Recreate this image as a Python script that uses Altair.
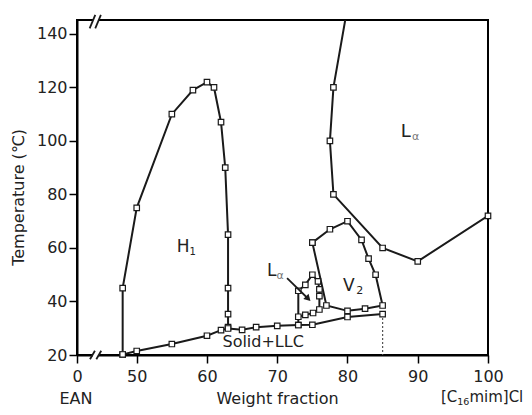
import altair as alt
import pandas as pd

# ---------------- data ----------------
# H1 phase boundary
h1_x = [48, 48, 50, 55, 58, 60, 61, 62, 62.6, 63, 63, 63, 63]
h1_y = [20.2, 45, 75, 110, 119, 122, 120, 107, 90, 65, 45, 35.3, 30.4]
# Solid + LLC boundary (lower line)
base_x = [48, 50, 55, 60, 62, 63, 65, 67, 70, 73, 75, 80, 85]
base_y = [20.2, 21.5, 24.1, 27.2, 29.3, 29.9, 29.4, 30.4, 30.9, 31.2, 31.3, 34.2, 35.3]
# L-alpha (large region) boundary
la_x = [80, 78, 77.5, 78, 85, 90, 100]
la_y = [150, 120, 100, 80, 60, 55, 72]
# V2 region boundary (closed loop)
v2_x = [75, 77.5, 80, 82, 83, 84, 85, 82.5, 80, 77, 75]
v2_y = [62, 67, 70, 63, 56, 50, 38.5, 37.3, 36.5, 38.5, 62]
# small L-alpha pocket
lsm_x = [73, 73, 74, 75, 75.8, 76, 76, 76, 75.1, 74, 73]
lsm_y = [31.2, 44, 46.2, 50, 47.5, 44.5, 42, 37, 35.7, 35, 34.3]
# dashed line
dash_x = [85, 85]
dash_y = [35.3, 20]

# axis ticks
x_ticks = [41.5, 42.8, 50, 55, 60, 65, 70, 75, 80, 85, 90, 95, 100]
y_ticks = [20, 30, 40, 50, 60, 70, 80, 90, 100, 110, 120, 130, 140]

# labels: text, x, y, size, color, angle, align, baseline
lab_text = ["H", "1", "L", "α", "V", "2", "L", "α", "Solid+LLC",
            "Temperature (℃)", "EAN", "Weight fraction", "[C", "16", "mim]Cl"]
lab_x = [56.6, 57.95, 88.3, 89.7, 80.2, 81.75, 69.2, 70.4, 68.0,
         33.3, 41.35, 70.05, 93.31, 95.63, 97.35]
lab_y = [60.2, 58.4, 103.4, 101.4, 45.8, 43.9, 51.4, 49.6, 24.7,
         78.9, 1.7, 1.7, 2.4, 1.4, 2.4]
lab_size = [17, 10, 18, 11, 17, 11, 17, 11, 16, 16, 16, 16, 15, 9.5, 15]
lab_color = ["#222", "#222", "#222", "#777", "#222", "#222", "#222", "#777", "#222",
             "#222", "#222", "#222", "#222", "#222", "#222"]
lab_angle = [0, 0, 0, 0, 0, 0, 0, 0, 0, 270, 0, 0, 0, 0, 0]
lab_align = ["center"] * 12 + ["left", "left", "left"]
lab_base = ["middle"] * 10 + ["alphabetic"] * 5

# arrow
arrow_x = [71.4]
arrow_y = [48.7]
arrow_x2 = [74.3]
arrow_y2 = [41.3]
head_x = [74.3]
head_y = [41.3]

# axis break marks
brk_x = [43.35, 44.25, 43.3, 44.1]
brk_x2 = [44.05, 44.95, 44.1, 44.9]
brk_y = [18.4, 18.4, 142.1, 142.1]
brk_y2 = [21.6, 21.6, 147.1, 147.1]
gap_x = [43.75, 43.8]
gap_x2 = [44.6, 44.6]
gap_y = [20, 145.2]

# ---------------- build tables ----------------
rows = []
for name, xs, ys in [("h1", h1_x, h1_y), ("base", base_x, base_y), ("la", la_x, la_y),
                     ("v2", v2_x, v2_y), ("lsm", lsm_x, lsm_y)]:
    for i, (a, b) in enumerate(zip(xs, ys)):
        rows.append({"series": name, "i": i, "x": a, "y": b})
curves = pd.DataFrame(rows)
dash_df = pd.DataFrame({"x": dash_x, "y": dash_y, "i": [0, 1]})
labels = pd.DataFrame({"t": lab_text, "x": lab_x, "y": lab_y, "s": lab_size, "c": lab_color,
                       "a": lab_angle, "al": lab_align, "bl": lab_base})
arrow_df = pd.DataFrame({"x": arrow_x, "y": arrow_y, "x2": arrow_x2, "y2": arrow_y2})
head_df = pd.DataFrame({"x": head_x, "y": head_y})
brk_df = pd.DataFrame({"x": brk_x, "x2": brk_x2, "y": brk_y, "y2": brk_y2})
gap_df = pd.DataFrame({"x": gap_x, "x2": gap_x2, "y": gap_y})

FONT = "DejaVu Sans"

xscale = alt.Scale(domain=[41.5, 100], nice=False, zero=False)
yscale = alt.Scale(domain=[20, 145.2], nice=False, zero=False)

xaxis = alt.Axis(
    values=x_ticks, title=None, grid=False,
    labelExpr="datum.value < 42 ? '0' : (datum.value % 10 == 0 ? datum.label : '')",
    tickSize={"condition": {"test": "datum.value % 10 != 0 && datum.value > 42", "value": 4}, "value": 8},
    domainColor="black", domainWidth=2, tickColor="black", tickWidth=1.5,
    labelFont=FONT, labelFontSize=16, labelColor="#222", labelPadding=5,
    labelFlush=False, labelOverlap=False,
)
yaxis = alt.Axis(
    values=y_ticks, title=None, grid=False,
    labelExpr="datum.value % 20 == 0 ? datum.label : ''",
    tickSize={"condition": {"test": "datum.value % 20 != 0", "value": 4}, "value": 8},
    domainColor="black", domainWidth=2, tickColor="black", tickWidth=1.5,
    labelFont=FONT, labelFontSize=16, labelColor="#222", labelPadding=2,
    labelFlush=False, labelOverlap=False,
)

X = alt.X("x:Q", scale=xscale, axis=xaxis)
Y = alt.Y("y:Q", scale=yscale, axis=yaxis)

lines = alt.Chart(curves).mark_line(color="#1a1a1a", strokeWidth=2, clip=True).encode(
    x=X, y=Y, detail="series:N", order="i:Q")

dashed = alt.Chart(dash_df).mark_line(color="#555", strokeWidth=1.2, strokeDash=[2, 2]).encode(
    x="x:Q", y="y:Q", order="i:Q")

points = alt.Chart(curves).transform_filter("datum.y < 146").mark_point(
    shape="square", size=30, filled=True, fill="white", stroke="#1a1a1a", strokeWidth=1.2, opacity=1
).encode(x="x:Q", y="y:Q")

texts_c = alt.Chart(labels).transform_filter("datum.al == 'center' && datum.bl == 'middle'").mark_text(
    font=FONT, align="center", baseline="middle").encode(
    x="x:Q", y="y:Q", text="t:N",
    size=alt.Size("s:Q", scale=None, legend=None),
    color=alt.Color("c:N", scale=None, legend=None),
    angle=alt.Angle("a:Q", scale=None, legend=None))
texts_cb = alt.Chart(labels).transform_filter("datum.al == 'center' && datum.bl == 'alphabetic'").mark_text(
    font=FONT, align="center", baseline="alphabetic").encode(
    x="x:Q", y="y:Q", text="t:N",
    size=alt.Size("s:Q", scale=None, legend=None),
    color=alt.Color("c:N", scale=None, legend=None))
texts_l = alt.Chart(labels).transform_filter("datum.al == 'left'").mark_text(
    font=FONT, align="left", baseline="alphabetic").encode(
    x="x:Q", y="y:Q", text="t:N",
    size=alt.Size("s:Q", scale=None, legend=None),
    color=alt.Color("c:N", scale=None, legend=None))

arrow = alt.Chart(arrow_df).mark_rule(color="#1a1a1a", strokeWidth=1.8).encode(
    x="x:Q", y="y:Q", x2="x2:Q", y2="y2:Q")
head = alt.Chart(head_df).mark_point(shape="triangle", size=55, filled=True, color="#1a1a1a",
                                     angle=135, opacity=1).encode(x="x:Q", y="y:Q")

gaps = alt.Chart(gap_df).mark_rule(color="white", strokeWidth=5).encode(
    x="x:Q", x2="x2:Q", y="y:Q")
breaks = alt.Chart(brk_df).mark_rule(color="#1a1a1a", strokeWidth=1.8).encode(
    x="x:Q", x2="x2:Q", y="y:Q", y2="y2:Q")

chart = alt.layer(lines, dashed, points, texts_c, texts_cb, texts_l, arrow, head, gaps, breaks).properties(
    width=411, height=335,
    autosize=alt.AutoSizeParams(type="none"),
    padding={"left": 69, "top": 12, "right": 36, "bottom": 52},
    background="white",
).configure_view(stroke="black", strokeWidth=2)

chart.save("out.html", embed_options={"renderer": "svg", "actions": False})
